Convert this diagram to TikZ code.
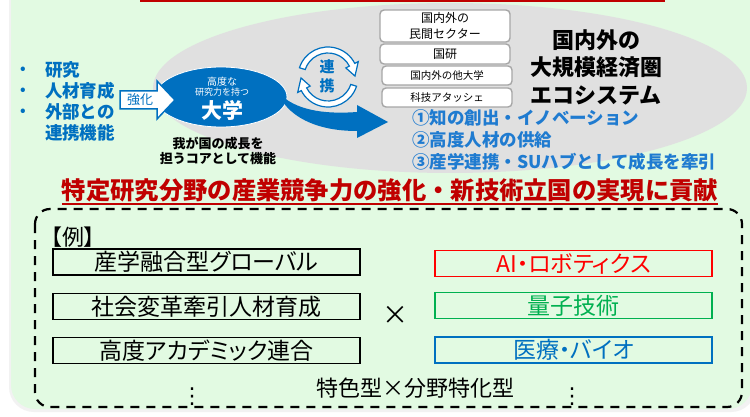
\documentclass[tikz,border=0pt]{standalone}
\usepackage{fontspec}
\setmainfont{Noto Sans CJK JP}
\newfontfamily\jpp[RawFeature=+palt]{Noto Sans CJK JP}
\newfontfamily\dejavu{DejaVu Sans}
\usetikzlibrary{calc,shapes.geometric}
\definecolor{bgG}{HTML}{E2FAE2}
\definecolor{ellG}{HTML}{E0E0E0}
\definecolor{uBlue}{HTML}{0070C0}
\definecolor{lBlue}{HTML}{1F7BD0}
\definecolor{tRed}{HTML}{C00000}
\definecolor{boxGray}{HTML}{A6A6A6}
\definecolor{aiRed}{HTML}{FF0000}
\definecolor{qGreen}{HTML}{00B050}
\newcommand{\fs}[2]{\fontsize{#1}{#2}\selectfont}
\begin{document}
\begin{tikzpicture}[x=1pt,y=-1pt,
  every node/.style={inner sep=0pt, outer sep=0pt},
  orgbox/.style={draw=boxGray, line width=1.4pt, fill=white, rounded corners=4pt, minimum width=130pt, align=center},
  typebox/.style={draw=black, line width=1.8pt, minimum width=307pt, minimum height=26pt},
  fieldbox/.style={line width=1.8pt, minimum width=277pt, minimum height=26pt},
  cyc/.style={draw=uBlue, line width=1.2pt, fill=white},
  bullet/.style={text=uBlue, font=\fs{14}{14}\bfseries}
]
\useasboundingbox (0,0) rectangle (750,417);
\fill[white] (0,0) rectangle (750,417);
% panel with soft shadow
\fill[black!5, rounded corners=25pt] (9,-40) rectangle (756,412);
\fill[bgG, rounded corners=24pt] (11,-40) rectangle (752,409);
% big grey ellipse
\fill[ellG] (450,88) ellipse [x radius=297, y radius=85];
% red line at top
\draw[tRed, line width=3pt] (140,1) -- (665,1);

% university ellipse
\node (uni) [ellipse, draw=white, line width=0.8pt, fill=uBlue, minimum width=132pt, minimum height=60pt] at (221,97) {};
\node (unit1) [text=white, font=\fs{10}{10}] at (222,82) {高度な};
\node (unit2) [text=white, font=\fs{9}{9}] at (222,92) {研究力を持つ};
\node (unit3) [text=white, font=\fs{21}{21}\bfseries] at (222,110) {大学};

% strengthen arrow
\draw[uBlue, line width=1.5pt, fill=white, line join=miter] (120,91) -- (157,91) -- (157,81) -- (175,100) -- (157,119) -- (157,109) -- (120,109) -- cycle;
\node (kyoka) [text=uBlue, font=\fs{13}{13}] at (140,100) {強化};

% curved blue arrow
\fill[uBlue] (282,96) .. controls (300,112) and (330,114) .. (357,112) -- (357,105) -- (388,122) -- (357,138) -- (357,131) .. controls (318,131) and (294,118) .. (283,102) -- cycle;

% cycle arrows
\begin{scope}[shift={(328,77)}]
  \filldraw[cyc] (198:30) arc[start angle=198, end angle=333, radius=30] -- (333:34) -- (358:27) -- (333:20) -- (333:24) arc[start angle=333, end angle=198, radius=24] -- cycle;
  \filldraw[cyc] (18:30) arc[start angle=18, end angle=153, radius=30] -- (153:34) -- (178:27) -- (153:20) -- (153:24) arc[start angle=153, end angle=18, radius=24] -- cycle;
\end{scope}
\node (ren) [text=uBlue, font=\fs{15}{19}\bfseries, align=center] at (327,76) {連\\携};

% bullets left
\node (b1) [bullet] at (23,70) {•};
\node (b2) [bullet] at (23,91) {•};
\node (b3) [bullet] at (23,112) {•};
\node (func) [anchor=west, align=left, text=uBlue, font=\fs{17.5}{21.2}\bfseries] at (45,101.5) {研究\\人材育成\\外部との\\連携機能};

\node (core) [align=center, font=\fs{13}{14.5}\bfseries] at (218,151) {我が国の成長を\\担うコアとして機能};

% org boxes
\node (o1) [orgbox, minimum height=32pt, font=\fs{12}{16}] at (445,26) {国内外の\\民間セクター};
\node (o2) [orgbox, minimum height=20pt, font=\fs{12}{12}] at (445,54) {国研};
\node (o3) [orgbox, minimum height=19pt, font=\fs{10.5}{10.5}] at (447,75.5) {国内外の他大学};
\node (o4) [orgbox, minimum height=19pt, font=\fs{10.5}{10.5}] at (447,97.5) {科技アタッシェ};

\node (eco) [align=center, font=\fs{22}{27.5}\bfseries] at (596,67) {国内外の\\大規模経済圏\\エコシステム};

\node (list) [anchor=west, align=left, text=lBlue, font=\fs{17.5}{22}\bfseries] at (412,140) {①知の創出・イノベーション\\②高度人材の供給\\③産学連携・SUハブとして成長を牽引};

% red title
\node (title) [text=tRed, font=\fs{24.3}{24.3}\bfseries] at (390,190) {特定研究分野の産業競争力の強化・新技術立国の実現に貢献};
\draw[tRed, line width=1.3pt] ($(title.west)+(0,14)$) -- ($(title.east)+(0,14)$);

% dashed frame
\draw[black, line width=2.2pt, dash pattern=on 9pt off 7pt, rounded corners=15pt] (35,209) rectangle (742,407);

\node (rei) [anchor=west, font=\jpp\fs{22}{22}] at (51,237) {【例】};

\node (t1) [typebox, font=\jpp\fs{23}{23}] at (206.5,262) {産学融合型グローバル};
\node (t2) [typebox, font=\jpp\fs{23}{23}] at (206.5,306.5) {社会変革牽引人材育成};
\node (t3) [typebox, font=\jpp\fs{23}{23}] at (206.5,350.5) {高度アカデミック連合};

\node (times) [font=\fs{26}{26}] at (395,315) {×};

\node (f1) [fieldbox, draw=aiRed, text=aiRed, font=\jpp\fs{23}{23}] at (573.5,263.5) {AI・ロボティクス};
\node (f2) [fieldbox, draw=qGreen, text=qGreen, font=\jpp\fs{23}{23}] at (573.5,305.5) {量子技術};
\node (f3) [fieldbox, draw=uBlue, text=uBlue, font=\jpp\fs{23}{23}] at (573.5,350) {医療・バイオ};

\node (tokushoku) [font=\jpp\fs{22}{22}] at (415,388) {特色型×分野特化型};
\node (d1) [font=\dejavu\fs{22}{22}] at (192,397) {⋮};
\node (d2) [font=\dejavu\fs{22}{22}] at (572,397) {⋮};
\end{tikzpicture}
\end{document}
